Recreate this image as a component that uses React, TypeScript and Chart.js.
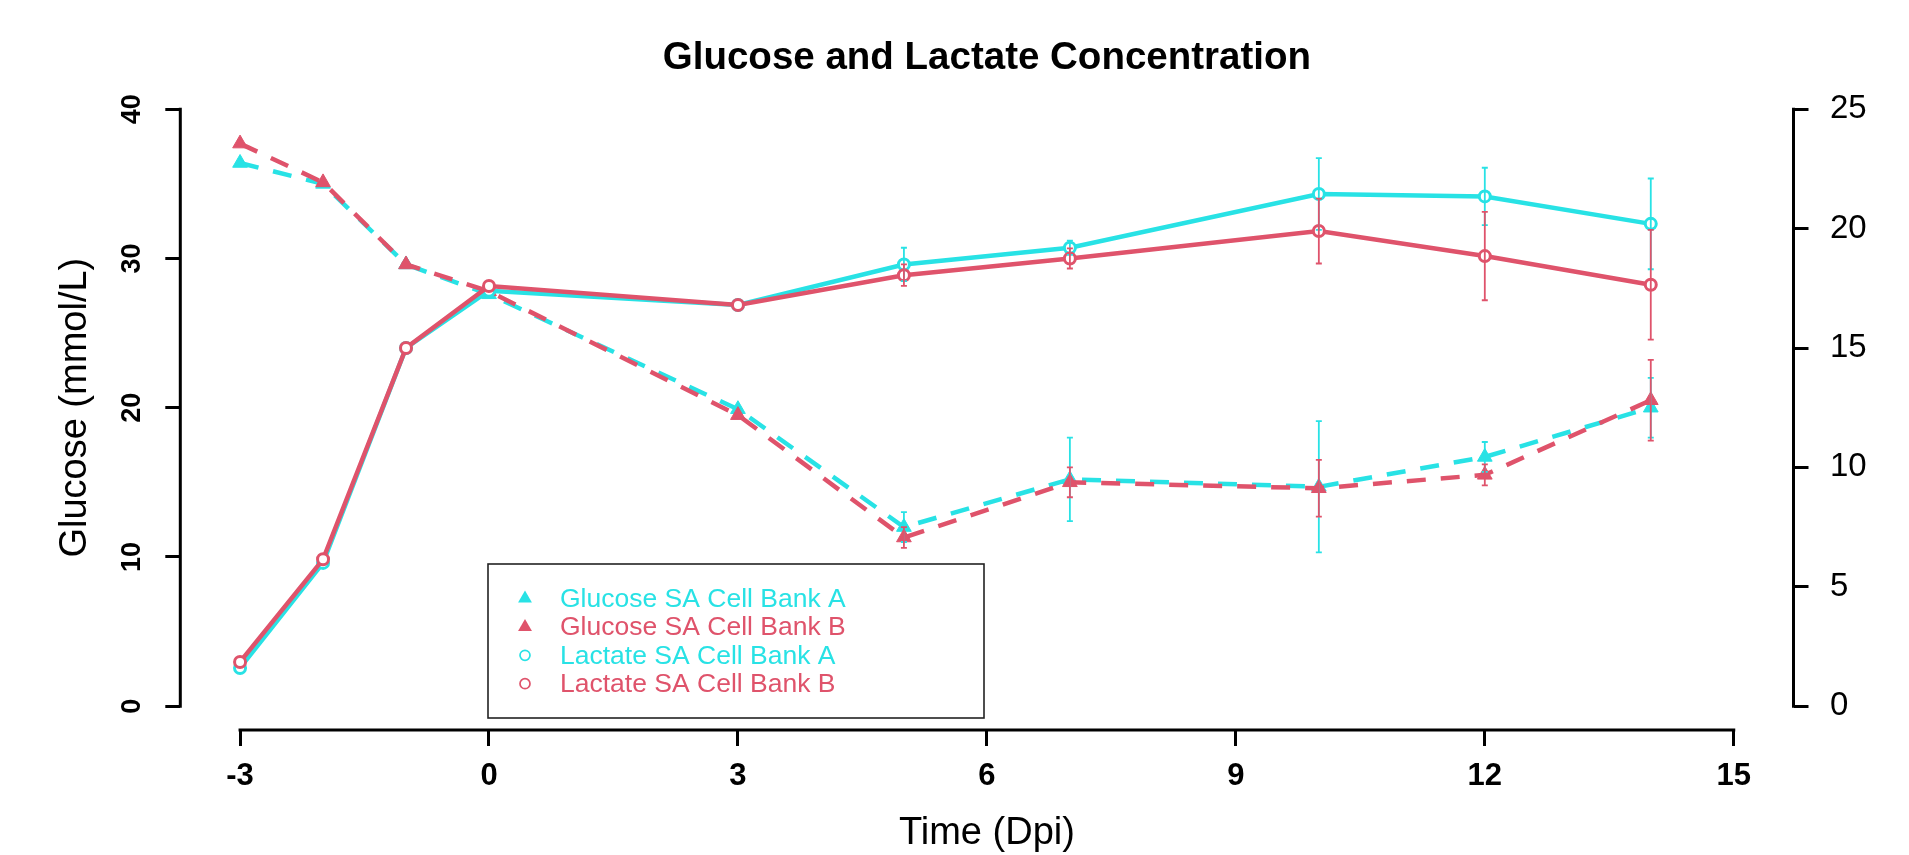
import React, { useEffect, useRef } from 'react';
import { Chart, registerables } from 'chart.js';

Chart.register(...registerables);

// ---- data ----
const days = [-3, -2, -1, 0, 3, 5, 7, 10, 12, 14];

const glucoseA = [36.4, 35.0, 29.6, 27.6, 19.9, 12.0, 15.2, 14.7, 16.7, 20.0];
const glucoseB = [37.7, 35.1, 29.6, 27.8, 19.5, 11.3, 15.0, 14.6, 15.5, 20.5];
const glucoseAErr = [0, 0, 0, 0, 0, 1.0, 2.8, 4.4, 1.0, 2.0];
const glucoseBErr = [0, 0, 0, 0, 0, 0.7, 1.0, 1.9, 0.7, 2.7];

const lactateA = [1.6, 6.0, 15.0, 17.4, 16.8, 18.5, 19.2, 21.45, 21.35, 20.2];
const lactateB = [1.85, 6.15, 15.0, 17.6, 16.8, 18.05, 18.75, 19.9, 18.85, 17.65];
const lactateAErr = [0, 0, 0, 0, 0, 0.7, 0.3, 1.5, 1.2, 1.9];
const lactateBErr = [0, 0, 0, 0, 0, 0.45, 0.42, 1.36, 1.85, 2.3];

const xTicks = [-3, 0, 3, 6, 9, 12, 15];
const leftTicks = [0, 10, 20, 30, 40];
const rightTicks = [0, 5, 10, 15, 20, 25];

const seriesLabels = [
  'Glucose SA Cell Bank A',
  'Glucose SA Cell Bank B',
  'Lactate SA Cell Bank A',
  'Lactate SA Cell Bank B',
];
const chartTitle = 'Glucose and Lactate Concentration';
const xTitle = 'Time (Dpi)';
const yTitle = 'Glucose (mmol/L)';

const CYAN = '#28E2E5';
const RED = '#DF536B';
const FONT = '"Liberation Sans", Arial, Helvetica, sans-serif';

const seriesColors = [CYAN, RED, CYAN, RED];
const seriesMarkers = ['triangle', 'triangle', 'circle', 'circle'];
const seriesErrors = [glucoseAErr, glucoseBErr, lactateAErr, lactateBErr];

const toPoints = (vals: number[]) => days.map((d, i) => ({ x: d, y: vals[i] }));

const errorBarPlugin = {
  id: 'errorBars',
  afterDatasetsDraw(chart: any) {
    const ctx = chart.ctx;
    const xs = chart.scales.x;
    const order = [0, 2, 1, 3];
    ctx.save();
    order.forEach((i) => {
      const ds = chart.data.datasets[i];
      const ys = chart.scales[ds.yAxisID];
      const errs = seriesErrors[i];
      ctx.strokeStyle = seriesColors[i];
      ctx.lineWidth = 1.8;
      ds.data.forEach((p: any, j: number) => {
        const e = errs[j];
        if (!e) return;
        const x = xs.getPixelForValue(p.x);
        const yt = ys.getPixelForValue(p.y + e);
        const yb = ys.getPixelForValue(p.y - e);
        ctx.beginPath();
        ctx.moveTo(x, yt);
        ctx.lineTo(x, yb);
        ctx.moveTo(x - 3, yt);
        ctx.lineTo(x + 3, yt);
        ctx.moveTo(x - 3, yb);
        ctx.lineTo(x + 3, yb);
        ctx.stroke();
      });
    });
    ctx.restore();
  },
};

const decorPlugin = {
  id: 'decor',
  afterDraw(chart: any) {
    const ctx = chart.ctx;
    const { left, right, bottom } = chart.chartArea;
    const xs = chart.scales.x;
    const yl = chart.scales.y;
    const yr = chart.scales.y1;
    ctx.save();
    // title
    ctx.fillStyle = '#000';
    ctx.font = `bold 38.5px ${FONT}`;
    ctx.textAlign = 'center';
    ctx.textBaseline = 'alphabetic';
    ctx.fillText(chartTitle, (left + right) / 2, 69);

    // axis lines (from first to last tick, like R)
    ctx.strokeStyle = '#000';
    ctx.lineWidth = 3;
    ctx.lineCap = 'square';
    ctx.beginPath();
    ctx.moveTo(xs.getPixelForValue(xTicks[0]), bottom);
    ctx.lineTo(xs.getPixelForValue(xTicks[xTicks.length - 1]), bottom);
    ctx.moveTo(left, yl.getPixelForValue(leftTicks[0]));
    ctx.lineTo(left, yl.getPixelForValue(leftTicks[leftTicks.length - 1]));
    ctx.moveTo(right, yr.getPixelForValue(rightTicks[0]));
    ctx.lineTo(right, yr.getPixelForValue(rightTicks[rightTicks.length - 1]));
    ctx.stroke();

    // legend box
    const bx = 488, by = 564, bw = 496, bh = 154;
    ctx.lineCap = 'butt';
    ctx.lineWidth = 1.6;
    ctx.strokeStyle = '#222';
    ctx.strokeRect(bx, by, bw, bh);
    ctx.font = `26.5px ${FONT}`;
    ctx.textAlign = 'left';
    ctx.textBaseline = 'middle';
    seriesLabels.forEach((lab, i) => {
      const cy = 598.5 + i * 28.4;
      const cx = 525;
      const col = seriesColors[i];
      if (seriesMarkers[i] === 'triangle') {
        const r = 8;
        ctx.fillStyle = col;
        ctx.beginPath();
        ctx.moveTo(cx, cy - r);
        ctx.lineTo(cx + r * 0.866, cy + r * 0.5);
        ctx.lineTo(cx - r * 0.866, cy + r * 0.5);
        ctx.closePath();
        ctx.fill();
      } else {
        ctx.strokeStyle = col;
        ctx.lineWidth = 1.7;
        ctx.beginPath();
        ctx.arc(cx, cy, 5, 0, Math.PI * 2);
        ctx.stroke();
      }
      ctx.fillStyle = col;
      ctx.fillText(lab, 560, cy + 1);
    });
    ctx.restore();
  },
};

export default function App() {
  const ref = useRef<HTMLCanvasElement | null>(null);

  useEffect(() => {
    if (!ref.current) return;
    Chart.defaults.font.family = FONT;
    Chart.defaults.color = '#000';

    const mkDataset = (i: number, vals: number[], axis: string, order: number) => {
      const isGlu = seriesMarkers[i] === 'triangle';
      return {
        label: seriesLabels[i],
        data: toPoints(vals),
        yAxisID: axis,
        order,
        borderColor: seriesColors[i],
        backgroundColor: seriesColors[i],
        borderWidth: 4.5,
        borderDash: isGlu ? [19, 15] : [],
        tension: 0,
        fill: false,
        pointStyle: seriesMarkers[i],
        pointRadius: isGlu ? 8.5 : 5.5,
        pointBorderWidth: isGlu ? 1 : 3,
        pointBackgroundColor: isGlu ? seriesColors[i] : '#fff',
        pointBorderColor: seriesColors[i],
      };
    };

    const tickGrid = (len: number) => ({
      drawOnChartArea: false,
      drawTicks: true,
      tickLength: len,
      color: '#000',
      lineWidth: 3,
    });

    const chart = new Chart(ref.current, {
      type: 'line',
      data: {
        datasets: [
          mkDataset(0, glucoseA, 'y', 4),
          mkDataset(1, glucoseB, 'y', 3),
          mkDataset(2, lactateA, 'y1', 2),
          mkDataset(3, lactateB, 'y1', 1),
        ],
      },
      options: {
        responsive: false,
        animation: false,
        devicePixelRatio: 1,
        layout: { padding: { top: 85.4, left: 0, right: 0, bottom: 0 } },
        plugins: {
          legend: { display: false },
          tooltip: { enabled: false },
          title: { display: false },
        },
        scales: {
          x: {
            type: 'linear',
            position: 'bottom',
            min: -3.72,
            max: 15.72,
            afterBuildTicks: (s: any) => {
              s.ticks = xTicks.map((v) => ({ value: v }));
            },
            afterFit: (s: any) => {
              s.height = 125;
            },
            ticks: {
              font: { size: 31, weight: 'bold' },
              color: '#000',
              padding: 11.5,
              maxRotation: 0,
              autoSkip: false,
              callback: (v: any) => String(v),
            },
            grid: tickGrid(16),
            border: { display: false },
            title: {
              display: true,
              text: xTitle,
              color: '#000',
              font: { size: 38 },
              padding: { top: 0, bottom: -1 },
            },
          },
          y: {
            type: 'linear',
            position: 'left',
            min: -1.6,
            max: 41.6,
            afterBuildTicks: (s: any) => {
              s.ticks = leftTicks.map((v) => ({ value: v }));
            },
            afterFit: (s: any) => {
              s.width = 180.3;
            },
            ticks: {
              font: { size: 27, weight: 'bold' },
              color: '#000',
              padding: 18,
              minRotation: 90,
              maxRotation: 90,
              crossAlign: 'center',
              autoSkip: false,
              callback: (v: any) => String(v),
            },
            grid: tickGrid(15),
            border: { display: false },
            title: {
              display: true,
              text: yTitle,
              color: '#000',
              font: { size: 38 },
              padding: { top: 52.7, bottom: 0 },
            },
          },
          y1: {
            type: 'linear',
            position: 'right',
            min: -1,
            max: 26,
            afterBuildTicks: (s: any) => {
              s.ticks = rightTicks.map((v) => ({ value: v }));
            },
            afterFit: (s: any) => {
              s.width = 115.5;
            },
            ticks: {
              font: { size: 33 },
              color: '#000',
              padding: 21.5,
              autoSkip: false,
              callback: (v: any) => String(v),
            },
            grid: tickGrid(15),
            border: { display: false },
          },
        },
      } as any,
      plugins: [errorBarPlugin, decorPlugin],
    });

    return () => chart.destroy();
  }, []);

  return (
    <div style={{ position: 'fixed', left: 0, top: 0, width: 1909, height: 855, background: '#fff' }}>
      <canvas ref={ref} width={1909} height={855} />
    </div>
  );
}
